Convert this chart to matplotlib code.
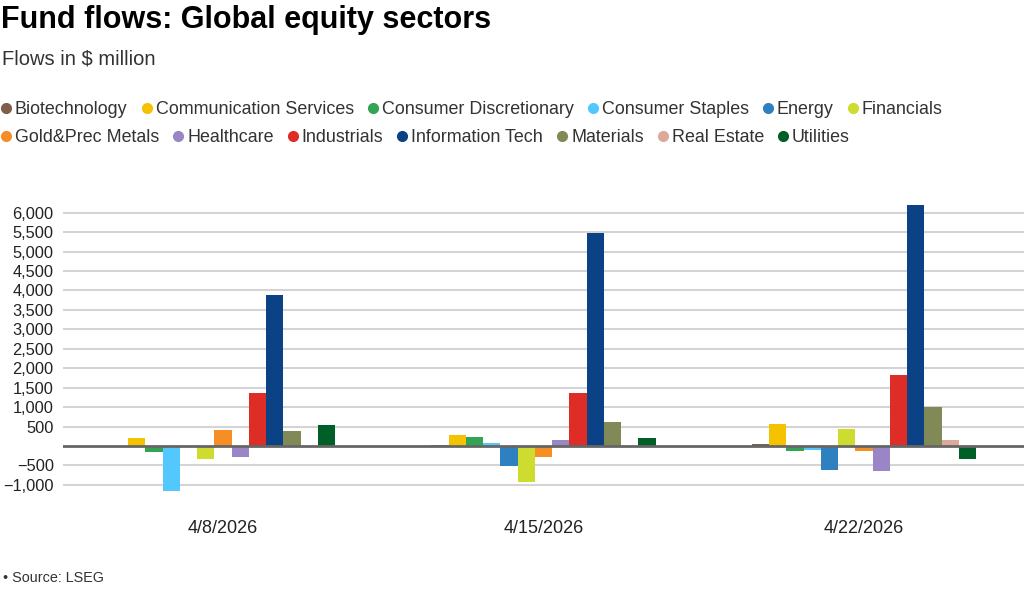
import numpy as np
import matplotlib
matplotlib.use("Agg")
import matplotlib.pyplot as plt
from matplotlib.ticker import FuncFormatter, FixedLocator

plt.rcParams['font.family'] = ['Liberation Sans', 'DejaVu Sans']

dates = ["4/8/2026", "4/15/2026", "4/22/2026"]
sectors = ["Biotechnology", "Communication Services", "Consumer Discretionary",
           "Consumer Staples", "Energy", "Financials", "Gold&Prec Metals",
           "Healthcare", "Industrials", "Information Tech", "Materials",
           "Real Estate", "Utilities"]
colors = ["#7f5f4a", "#f5c200", "#33a354", "#52c8ff", "#2f80c0", "#cddc2e",
          "#f58f25", "#9a86c6", "#de2d26", "#0a4285", "#818a56", "#dca89c",
          "#005f26"]

biotech = [0, 20, 50]
comm_services = [198, 270, 560]
cons_disc = [-146, 230, -140]
cons_staples = [-1150, 70, -95]
energy = [0, -525, -620]
financials = [-334, -920, 430]
gold = [411, -290, -140]
healthcare = [-291, 160, -650]
industrials = [1355, 1370, 1820]
info_tech = [3882, 5470, 6190]
materials = [393, 625, 1010]
real_estate = [0, 0, 160]
utilities = [532, 215, -330]

series = [biotech, comm_services, cons_disc, cons_staples, energy, financials,
          gold, healthcare, industrials, info_tech, materials, real_estate,
          utilities]

yticks = [-1000, -500, 0, 500, 1000, 1500, 2000, 2500, 3000, 3500, 4000,
          4500, 5000, 5500, 6000]

W, H = 1024, 590
fig = plt.figure(figsize=(W / 100, H / 100), dpi=100)

# axes placement in pixels
ax_left, ax_right = 62.75, 1024.25
zero_px, px_per_unit = 446.0, 0.0389
ymin, ymax = -1200, 6400
top_px = zero_px - ymax * px_per_unit
bot_px = zero_px - ymin * px_per_unit
ax = fig.add_axes([ax_left / W, 1 - bot_px / H, (ax_right - ax_left) / W,
                   (bot_px - top_px) / H])

x = np.arange(len(dates))
n = len(sectors)
bw = 0.70 / n
for i, (vals, c) in enumerate(zip(series, colors)):
    ax.bar(x + (i - (n - 1) / 2) * bw, vals, width=bw, color=c,
           edgecolor='none', zorder=2)

ax.set_xlim(-0.5, len(dates) - 0.5)
ax.set_ylim(ymin, ymax)
ax.yaxis.set_major_locator(FixedLocator(yticks))
ax.yaxis.set_major_formatter(FuncFormatter(
    lambda v, p: "" if v == 0 else f"{v:,.0f}".replace("-", "\u2212")))
for v in yticks:
    if v != 0:
        ax.axhline(v, color="#d4d4d4", lw=1.5, zorder=1)
ax.axhline(0, color="#666666", lw=2, zorder=3)

ax.set_xticks(x)
ax.set_xticklabels(dates)
ax.tick_params(axis='x', length=0, pad=20, labelsize=13, colors="#222222")
ax.tick_params(axis='y', length=0, pad=6.5, labelsize=11.8, colors="#222222")
for s in ax.spines.values():
    s.set_visible(False)

# title and subtitle
fig.text(1 / W, 1 - 28 / H, "Fund flows: Global equity sectors", fontsize=22,
         fontweight='bold', color="#000000", va='baseline', ha='left')
fig.text(2 / W, 1 - 64 / H, "Flows in $ million", fontsize=14.5,
         color="#333333", va='baseline', ha='left')

# legend, flowing layout
rows = [sectors[:6], sectors[6:]]
row_y = [108, 136]
fig.canvas.draw()
renderer = fig.canvas.get_renderer()
for row, yy in zip(rows, row_y):
    xc = 6.0
    for name in row:
        c = colors[sectors.index(name)]
        fig.add_artist(plt.Line2D([xc / W], [1 - yy / H], marker='o',
                                  markersize=7, color=c, linestyle='none',
                                  transform=fig.transFigure))
        t = fig.text((xc + 9) / W, 1 - yy / H, name, fontsize=12.9,
                     color="#333333", va='center_baseline', ha='left')
        bb = t.get_window_extent(renderer)
        xc = bb.x1 + 19

fig.text(3 / W, 1 - 578 / H, "\u2022 Source: LSEG", fontsize=10.4,
         color="#333333", va='center', ha='left')

fig.savefig("out.png", dpi=100)
